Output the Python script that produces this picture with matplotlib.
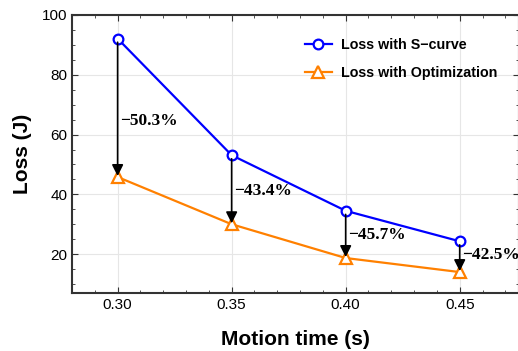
import matplotlib
matplotlib.use('Agg')
import matplotlib.pyplot as plt
from matplotlib.ticker import MultipleLocator

# Données
motion_time = [0.30, 0.35, 0.40, 0.45]
loss_scurve = [92.1, 53.1, 34.5, 24.3]
loss_optim = [45.8, 30.0, 18.7, 14.0]
reductions = ["\u221250.3%", "\u221243.4%", "\u221245.7%", "\u221242.5%"]
label_y = [64.5, 41.0, 26.5, 19.7]

plt.rcParams['font.family'] = ['Liberation Sans', 'DejaVu Sans']

fig = plt.figure(figsize=(5.18, 3.51), dpi=100)
ax = fig.add_axes([72 / 518, 1 - 293 / 351, 447 / 518, 278 / 351])

ax.plot(motion_time, loss_scurve, color='#0000ff', lw=1.6, marker='o', ms=7,
        mfc='white', mec='#0000ff', mew=1.6, label='Loss with S\u2212curve', zorder=3)
ax.plot(motion_time, loss_optim, color='#ff8000', lw=1.6, marker='^', ms=8,
        mfc='white', mec='#ff8000', mew=1.6, label='Loss with Optimization', zorder=3)

# Flèches de réduction
for x, y1, y2, ty, txt in zip(motion_time, loss_scurve, loss_optim, label_y, reductions):
    ax.annotate('', xy=(x, y2 + 0.3), xytext=(x, y1 - 1.2),
                arrowprops=dict(arrowstyle='-|>', color='black', lw=1.2, mutation_scale=17,
                                shrinkA=0, shrinkB=0), zorder=4)
    ax.text(x + 0.0012, ty, txt, family='Liberation Serif', fontweight='bold',
            fontsize=12.5, va='center', ha='left')

ax.set_xlim(0.28, 0.476)
ax.set_ylim(7, 100)
ax.xaxis.set_major_locator(MultipleLocator(0.05))
ax.xaxis.set_minor_locator(MultipleLocator(0.01))
ax.yaxis.set_major_locator(MultipleLocator(20))
ax.yaxis.set_minor_locator(MultipleLocator(5))
ax.tick_params(which='both', direction='in', top=True, right=True, labelsize=11, color='#333333')
ax.tick_params(which='major', length=4)
ax.tick_params(which='minor', length=2.5)
ax.set_xticklabels([f"{v:.2f}" for v in ax.get_xticks()])
ax.grid(True, which='major', color='#e6e6e6', lw=0.8)
ax.set_axisbelow(True)
for sp in ax.spines.values():
    sp.set_linewidth(1.5)
    sp.set_color('#333333')

ax.set_xlabel('Motion time (s)', fontsize=15, fontweight='bold', labelpad=13)
ax.set_ylabel('Loss (J)', fontsize=15, fontweight='bold', labelpad=7)

leg = ax.legend(loc='upper left', bbox_to_anchor=(0.521, 0.917), frameon=False,
                prop={'weight': 'bold', 'size': 10.3}, handlelength=1.9, handletextpad=0.6,
                labelspacing=0.95, borderpad=0, borderaxespad=0)

fig.savefig('out.png', dpi=100)
